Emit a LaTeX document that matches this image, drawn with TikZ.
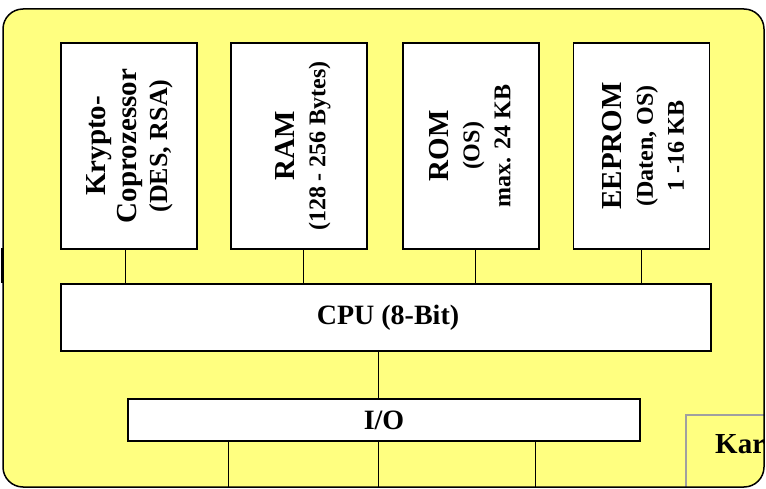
\documentclass[tikz,border=0pt]{standalone}
\usepackage{fontspec}
\setmainfont{Liberation Serif}
\definecolor{cardyellow}{RGB}{255,255,128}
\definecolor{kargray}{RGB}{160,160,160}
\begin{document}
\begin{tikzpicture}[x=1pt,y=-1pt,
  unit/.style={draw=black,line width=1.3pt,fill=white,inner sep=0pt,
    minimum width=136pt,minimum height=206pt},
  bar/.style={draw=black,line width=1.3pt,fill=white,inner sep=0pt},
  vlabel/.style={rotate=90,align=center,inner sep=0pt,
    font=\bfseries\fontsize{29}{31}\selectfont},
  wire/.style={draw=black,line width=1pt},
  hlabel/.style={font=\bfseries\fontsize{28}{30}\selectfont,inner sep=0pt}]
\useasboundingbox (0,0) rectangle (766,489);
% card
\node[draw=none,fill=cardyellow,rounded corners=20pt,minimum width=761pt,
  minimum height=478pt,inner sep=0pt] (card) at (383.5,248) {};
\begin{scope}
  \clip[rounded corners=20pt] (card.north west) rectangle (card.south east);
  \draw[kargray,line width=1.5pt,fill=cardyellow] (686,415) rectangle (790,510);
  \node[anchor=base west,font=\bfseries\fontsize{29}{30}\selectfont,inner sep=0pt]
    (kar) at (715,453) {Kar};
\end{scope}
\node[draw=black,line width=1.5pt,rounded corners=20pt,minimum width=761pt,
  minimum height=478pt,inner sep=0pt] (cardborder) at (383.5,248) {};
\fill[black] (1,248) rectangle (3.5,283);
% memory units
\node[unit] (kry) at (129,146) {};
\node[unit] (ram) at (299,146) {};
\node[unit] (rom) at (471,146) {};
\node[unit] (eep) at (641.5,146) {};
\node[vlabel] (krytxt) at ([xshift=1pt]kry.center) {Krypto-\\Coprozessor\\{\fontsize{26}{30}\selectfont (DES, RSA)}};
\node[vlabel] (ramtxt) at ([xshift=4pt]ram.center) {RAM\\{\fontsize{24}{27}\selectfont (128 - 256 Bytes)}};
\node[vlabel] (romtxt) at ([xshift=-1pt]rom.center) {ROM\\{\fontsize{24}{29}\selectfont (OS)}\\{\fontsize{24}{29}\selectfont max. 24 KB}};
\node[vlabel] (eeptxt) at ([xshift=2pt]eep.center) {EEPROM\\{\fontsize{24}{30}\selectfont (Daten, OS)}\\{\fontsize{24}{29}\selectfont 1 -16 KB}};
% CPU and I/O
\node[bar,minimum width=650pt,minimum height=67pt] (cpu) at (386,317.5) {};
\node[hlabel] (cputxt) at ([xshift=2pt]cpu.center) {CPU (8-Bit)};
\node[bar,minimum width=512pt,minimum height=42pt] (io) at (384,420) {};
\node[hlabel] (iotxt) at (io.center) {I/O};
% connectors
\draw[wire] ([xshift=-4pt]kry.south) -- ([xshift=-4pt]kry.south |- cpu.north);
\draw[wire] ([xshift=4pt]ram.south) -- ([xshift=4pt]ram.south |- cpu.north);
\draw[wire] ([xshift=4pt]rom.south) -- ([xshift=4pt]rom.south |- cpu.north);
\draw[wire] (eep.south) -- (eep.south |- cpu.north);
\draw[wire] ([xshift=-8pt]cpu.south) -- ([xshift=-8pt]cpu.south |- io.north);
\coordinate (p1) at (228,0);
\coordinate (p2) at (378,0);
\coordinate (p3) at (535,0);
\draw[wire] (io.south -| p1) -- (card.south -| p1);
\draw[wire] (io.south -| p2) -- (card.south -| p2);
\draw[wire] (io.south -| p3) -- (card.south -| p3);
\end{tikzpicture}
\end{document}
